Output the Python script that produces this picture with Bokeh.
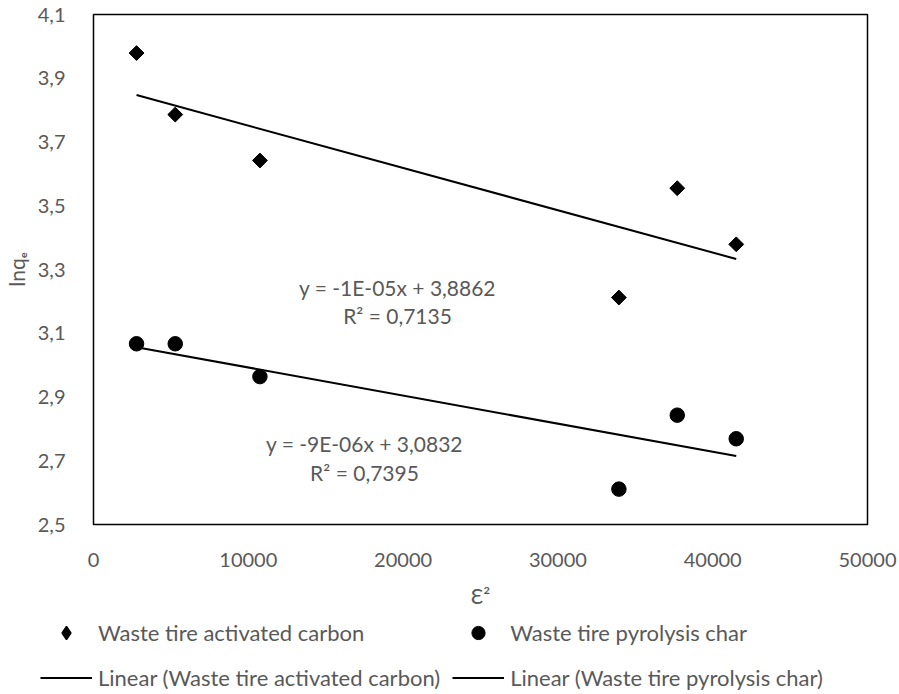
import numpy as np
from bokeh.plotting import figure
from bokeh.layouts import column
from bokeh.models import (FixedTicker, CustomJSTickFormatter, Legend, LegendItem,
                          Range1d, Label)
from bokeh.embed import file_html
from bokeh.resources import INLINE

# ---- data ----
eps2 = [2780, 5280, 10750, 33940, 37710, 41520]
ac_lnqe = [3.979, 3.786, 3.642, 3.212, 3.555, 3.379]   # Waste tire activated carbon
pc_lnqe = [3.067, 3.067, 2.964, 2.611, 2.843, 2.769]   # Waste tire pyrolysis char

x_ticks = [0, 10000, 20000, 30000, 40000, 50000]
y_ticks = [2.5, 2.7, 2.9, 3.1, 3.3, 3.5, 3.7, 3.9, 4.1]

ac_eq = "y = -1E-05x + 3,8862"
ac_r2 = "R² = 0,7135"
pc_eq = "y = -9E-06x + 3,0832"
pc_r2 = "R² = 0,7395"

ac_name = "Waste tire activated carbon"
pc_name = "Waste tire pyrolysis char"

FONT = "Lato"
GREY = "#595959"

p = figure(width=899, height=612, output_backend="svg", toolbar_location=None,
           x_range=Range1d(x_ticks[0], x_ticks[-1]), y_range=Range1d(y_ticks[0], y_ticks[-1]),
           min_border_left=93, min_border_right=32, min_border_top=14, min_border_bottom=88)
p.frame_align = False
p.background_fill_color = "white"
p.border_fill_color = "white"
p.outline_line_color = "black"
p.outline_line_width = 1.5
p.outline_line_alpha = 1.0
p.xgrid.visible = False
p.ygrid.visible = False

for ax in (p.xaxis[0], p.yaxis[0]):
    ax.axis_line_color = None
    ax.major_tick_line_color = None
    ax.minor_tick_line_color = None
    ax.major_label_text_font = FONT
    ax.major_label_text_font_size = "20px"
    ax.major_label_text_color = GREY
    ax.axis_label_text_font = FONT
    ax.axis_label_text_font_size = "21px"
    ax.axis_label_text_font_style = "normal"
    ax.axis_label_text_color = GREY

p.xaxis.ticker = FixedTicker(ticks=x_ticks)
p.yaxis.ticker = FixedTicker(ticks=y_ticks)
p.xaxis.formatter = CustomJSTickFormatter(code="return tick.toFixed(0);")
p.yaxis.formatter = CustomJSTickFormatter(code="return tick.toFixed(1).replace('.', ',');")
p.xaxis.axis_label = "Ɛ²"
p.yaxis.axis_label = "lnqₑ"
p.xaxis.major_label_standoff = 22
p.yaxis.major_label_standoff = 22
p.xaxis.axis_label_standoff = 13
p.yaxis.axis_label_standoff = 6

# scatter points
p.scatter(eps2, ac_lnqe, marker="square", angle=np.pi / 4, size=10.5,
          fill_color="black", line_color="black")
p.scatter(eps2, pc_lnqe, marker="circle", size=14.5,
          fill_color="black", line_color="black")

# linear trendlines (least squares on the data)
xs = [min(eps2), max(eps2)]
c_ac = np.polyfit(eps2, ac_lnqe, 1)
c_pc = np.polyfit(eps2, pc_lnqe, 1)
ac_fit = list(np.polyval(c_ac, xs))
pc_fit = list(np.polyval(c_pc, xs))
p.line(xs, ac_fit, line_color="black", line_width=2)
p.line(xs, pc_fit, line_color="black", line_width=2)

# equations
for (tx, ty, txt) in [(19640, 3.2435, ac_eq), (19640, 3.156, ac_r2),
                      (17506, 2.755, pc_eq), (17506, 2.664, pc_r2)]:
    p.add_layout(Label(x=tx, y=ty, text=txt, text_align="center", text_baseline="middle",
                       text_font=FONT, text_font_size="21px", text_color=GREY))

# ---- legend strip below the chart (its renderers hold the same data, out of view) ----
lg = figure(width=899, height=82, output_backend="svg", toolbar_location=None,
            x_range=Range1d(0, 1), y_range=Range1d(0, 1),
            x_axis_type=None, y_axis_type=None,
            min_border_left=0, min_border_right=0, min_border_top=0, min_border_bottom=0)
lg.frame_align = False
lg.outline_line_color = None
lg.xgrid.visible = False
lg.ygrid.visible = False
lg.background_fill_color = "white"
lg.border_fill_color = "white"

l_ac = lg.scatter(eps2, ac_lnqe, marker="diamond", size=15,
                  fill_color="black", line_color="black", line_width=1.5)
l_pc = lg.scatter(eps2, pc_lnqe, marker="circle", size=14.5,
                  fill_color="black", line_color="black")
l_ac_lin = lg.line(xs, ac_fit, line_color="black", line_width=2)
l_pc_lin = lg.line(xs, pc_fit, line_color="black", line_width=2)

legend = Legend(items=[
    LegendItem(label=ac_name, renderers=[l_ac]),
    LegendItem(label=pc_name, renderers=[l_pc]),
    LegendItem(label="Linear (" + ac_name + ")", renderers=[l_ac_lin]),
    LegendItem(label="Linear (" + pc_name + ")", renderers=[l_pc_lin]),
], orientation="horizontal", ncols=2, location=(40, 0))
legend.label_text_font = FONT
legend.label_text_font_size = "22px"
legend.label_text_color = GREY
legend.glyph_width = 52
legend.glyph_height = 33
legend.label_height = 33
legend.label_standoff = 6
legend.spacing = 12
legend.padding = 0
legend.margin = 0
legend.border_line_color = None
legend.background_fill_alpha = 0
lg.add_layout(legend, "center")

layout = column(p, lg, spacing=0)
open("out.html", "w").write(file_html(layout, INLINE))
